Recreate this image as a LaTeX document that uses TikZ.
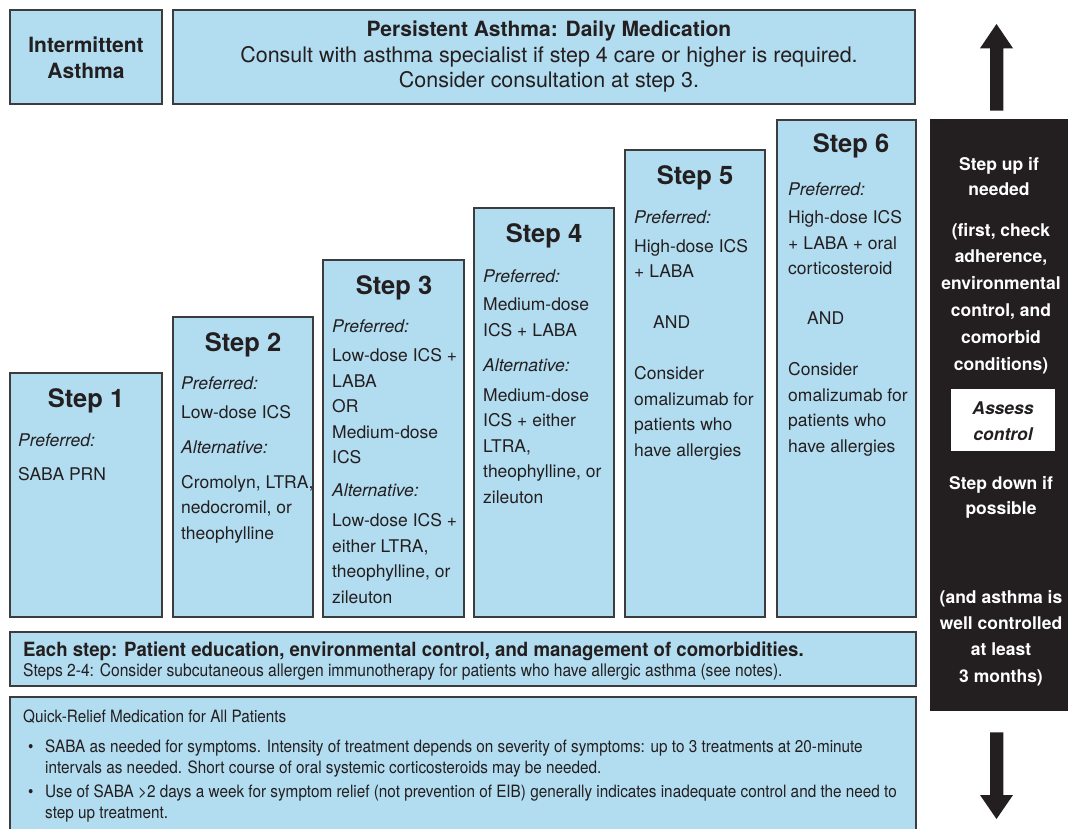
\documentclass[tikz,border=0pt]{standalone}
\usepackage{fontspec}
\setmainfont{TeX Gyre Heros}
\newfontfamily\condfont[FakeStretch=0.9]{TeX Gyre Heros}
\newfontfamily\condboldfont[FakeStretch=0.95]{TeX Gyre Heros}
\definecolor{boxblue}{RGB}{178,220,239}
\definecolor{ink}{RGB}{35,31,32}
\definecolor{edge}{RGB}{60,60,60}
\begin{document}
\begin{tikzpicture}[x=1pt,y=-1pt,
  box/.style={draw=edge, line width=1.3pt, fill=boxblue, inner sep=0pt, rectangle},
  steptitle/.style={font=\fontsize{25.5}{30}\selectfont\bfseries, text=ink, inner sep=0pt, anchor=base},
  body/.style={font=\fontsize{17.5}{25.5}\selectfont, text=ink, inner sep=0pt, anchor=base west, align=left},
  toptext/.style={font=\fontsize{21.45}{25.5}\selectfont, text=ink, inner sep=0pt, anchor=base, align=center},
  bartext/.style={font=\fontsize{17.5}{26.5}\selectfont\bfseries, text=white, inner sep=0pt, anchor=base, align=center},
  cond/.style={font=\condfont\fontsize{17}{21}\selectfont, text=ink, inner sep=0pt, anchor=base west, align=left},
]
\useasboundingbox (0,0) rectangle (1068,829);
\fill[white] (0,0) rectangle (1068,829);

% header boxes
\node[box, minimum width=152, minimum height=94] (int) at (86,57) {};
\node[box, minimum width=742, minimum height=94] (pers) at (544,57) {};
\node[toptext, font=\fontsize{21}{26}\selectfont\bfseries] (intt) at (86,78.5) {Intermittent\\Asthma};
\node[toptext] (perst) at (549,88) {{\fontsize{21}{25.5}\selectfont\bfseries Persistent Asthma: Daily Medication}\\Consult with asthma specialist if step 4 care or higher is required.\\Consider consultation at step 3.};

% step boxes
\node[box, minimum width=152, minimum height=244] (s1) at (86,495) {};
\node[box, minimum width=140, minimum height=300] (s2) at (243,467) {};
\node[box, minimum width=141, minimum height=357] (s3) at (393.5,438.5) {};
\node[box, minimum width=140, minimum height=409] (s4) at (544,412.5) {};
\node[box, minimum width=140, minimum height=467] (s5) at (695,383.5) {};
\node[box, minimum width=139, minimum height=497] (s6) at (846.5,368.5) {};

\node[steptitle] (t1) at (86,407) {Step 1};
\node[steptitle] (t2) at (243,351) {Step 2};
\node[steptitle] (t3) at (394,294) {Step 3};
\node[steptitle] (t4) at (544,242) {Step 4};
\node[steptitle] (t5) at (695,184.5) {Step 5};
\node[steptitle] (t6) at (851,153) {Step 6};

\node[body] (b1) at (18,480) {\textit{Preferred:}\\[8.5pt]SABA PRN};
\node[body] (b2) at (181,539) {\textit{Preferred:}\\[3.5pt]Low-dose ICS\\[9.5pt]\textit{Alternative:}\\[9.5pt]Cromolyn, LTRA,\\nedocromil, or\\theophylline};
\node[body] (b3) at (332,603) {\textit{Preferred:}\\[3.5pt]Low-dose ICS +\\LABA\\OR\\Medium-dose\\ICS\\[7.5pt]\textit{Alternative:}\\[4.5pt]Low-dose ICS +\\either LTRA,\\theophylline, or\\zileuton};
\node[body] (b4) at (483,503) {\textit{Preferred:}\\[2.5pt]Medium-dose\\ICS + LABA\\[9.5pt]\textit{Alternative:}\\[4.5pt]Medium-dose\\ICS + either\\LTRA,\\theophylline, or\\zileuton};
\node[body] (b5) at (634,456) {\textit{Preferred:}\\[3.5pt]High-dose ICS\\+ LABA\\[25.5pt]\hspace*{19pt}AND\\[25.5pt]Consider\\omalizumab for\\patients who\\have allergies};
\node[body] (b6) at (788,452) {\textit{Preferred:}\\[2.5pt]High-dose ICS\\+ LABA + oral\\corticosteroid\\[24.5pt]\hspace*{19pt}AND\\[25.5pt]Consider\\omalizumab for\\patients who\\have allergies};

% bottom boxes
\node[box, minimum width=906, minimum height=54] (each) at (463,659) {};
\fill[boxblue] (10,697) rectangle (916,829);
\draw[draw=edge, line width=1.3pt] (10,830) -- (10,697) -- (916,697) -- (916,830);
\node[cond, font=\condboldfont\fontsize{19.6}{21}\selectfont\bfseries] (eacht) at (23,656) {Each step: Patient education, environmental control, and management of comorbidities.};
\node[cond, font=\condfont\fontsize{17.35}{21}\selectfont] (steps24) at (23,676) {Steps 2-4: Consider subcutaneous allergen immunotherapy for patients who have allergic asthma (see notes).};
\node[cond] (quick) at (23,722) {Quick-Relief Medication for All Patients};
\node[cond] (bul1) at (28,752) {\textbullet};
\node[cond] (item1) at (45,773) {SABA as needed for symptoms. Intensity of treatment depends on severity of symptoms: up to 3 treatments at 20-minute\\intervals as needed. Short course of oral systemic corticosteroids may be needed.};
\node[cond] (bul2) at (28,797) {\textbullet};
\node[cond] (item2) at (45,818) {Use of SABA >2 days a week for symptom relief (not prevention of EIB) generally indicates inadequate control and the need to\\step up treatment.};

% right bar
\fill[ink] (930,119) rectangle (1068,711);
\fill[ink] (996.5,24) -- (1013,48.3) -- (1003.3,48.3) -- (1003.3,110.7) -- (990,110.7) -- (990,48.3) -- (980,48.3) -- cycle;
\fill[ink] (996.5,819) -- (1013,795) -- (1003.3,795) -- (1003.3,732.3) -- (990,732.3) -- (990,795) -- (980,795) -- cycle;
\node[bartext, font=\fontsize{17.5}{25}\selectfont\bfseries] (up) at (999,196) {Step up if\\needed};
\node[bartext, font=\fontsize{17.5}{26.8}\selectfont\bfseries] (first) at (1001,370) {(first, check\\adherence,\\environmental\\control, and\\comorbid\\conditions)};
\node[fill=white, minimum width=104, minimum height=62, inner sep=0pt] (assess) at (1003,420) {};
\node[bartext, text=ink, font=\fontsize{17.5}{26}\selectfont\bfseries\itshape] (assesst) at (1003,440) {Assess\\control};
\node[bartext, font=\fontsize{17.5}{25}\selectfont\bfseries] (down) at (1001,514) {Step down if\\possible};
\node[bartext, font=\fontsize{17.5}{26.3}\selectfont\bfseries] (well) at (1001,682) {(and asthma is\\well controlled\\at least\\3 months)};
\end{tikzpicture}
\end{document}
